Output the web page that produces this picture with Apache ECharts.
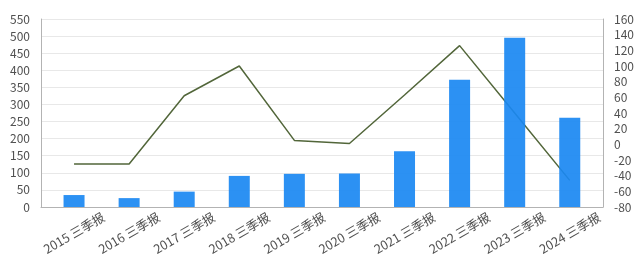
<!DOCTYPE html>
<html><head><meta charset="utf-8">
<script src="https://cdn.jsdelivr.net/npm/echarts@6/dist/echarts.min.js"></script>
<style>html,body{margin:0;padding:0;background:#fff}#c{width:640px;height:259px}</style>
</head><body><div id="c"></div>
<script>
const categories = ['2015 三季报','2016 三季报','2017 三季报','2018 三季报','2019 三季报','2020 三季报','2021 三季报','2022 三季报','2023 三季报','2024 三季报'];
const barValues = [35, 26, 45, 91, 97, 98, 163, 372, 495, 261];
const lineValues = [-25, -25, 62, 100, 5, 1, 63, 126, 40, -46];
const leftAxisMin = 0, leftAxisMax = 550, leftAxisStep = 50;
const rightAxisMin = -80, rightAxisMax = 160, rightAxisStep = 20;

const FONT = '"Noto Sans CJK SC","Noto Sans",sans-serif';
const labelColor = '#505050';
const chart = echarts.init(document.getElementById('c'), null, {renderer:'canvas'});
chart.setOption({
  animation: false,
  backgroundColor: '#fff',
  grid: [
    {left: 41, right: 37, top: 19, bottom: 52, containLabel: false, outerBoundsMode: 'none'},
    {left: 46.5, right: 42.7, top: 19, bottom: 52, containLabel: false, outerBoundsMode: 'none'}
  ],
  xAxis: [
    {gridIndex: 0, type: 'category', data: categories,
     axisLine: {show: true, lineStyle: {color: '#b3b3b3'}},
     axisTick: {show: false}, axisLabel: {show: false}, splitLine: {show: false}},
    {gridIndex: 1, type: 'category', data: categories,
     axisLine: {show: false}, axisTick: {show: false},
     axisLabel: {rotate: 30, align: 'center', verticalAlign: 'middle', margin: 26,
                 color: labelColor, fontSize: 12.5, fontFamily: FONT, interval: 0}}
  ],
  yAxis: [
    {gridIndex: 0, type: 'value', position: 'left', min: leftAxisMin, max: leftAxisMax, interval: leftAxisStep,
     axisLine: {show: true, lineStyle: {color: '#b3b3b3'}}, axisTick: {show: false},
     axisLabel: {color: labelColor, fontSize: 12, fontFamily: FONT, margin: 11},
     splitLine: {show: true, lineStyle: {color: '#e8e8e8'}}},
    {gridIndex: 0, type: 'value', position: 'right', min: rightAxisMin, max: rightAxisMax, interval: rightAxisStep,
     axisLine: {show: true, lineStyle: {color: '#b3b3b3'}}, axisTick: {show: false},
     axisLabel: {color: labelColor, fontSize: 12, fontFamily: FONT, margin: 11},
     splitLine: {show: false}},
    {gridIndex: 1, type: 'value', min: leftAxisMin, max: leftAxisMax, show: false},
    {gridIndex: 1, type: 'value', min: rightAxisMin, max: rightAxisMax, show: false}
  ],
  series: [
    {type: 'line', xAxisIndex: 1, yAxisIndex: 3, data: lineValues, symbol: 'none', z: 1,
     lineStyle: {color: '#52663a', width: 1.5}},
    {type: 'bar', xAxisIndex: 1, yAxisIndex: 2, data: barValues, barWidth: 21, z: 2,
     itemStyle: {color: '#1a88f2', opacity: 0.92}}
  ]
});
</script></body></html>
